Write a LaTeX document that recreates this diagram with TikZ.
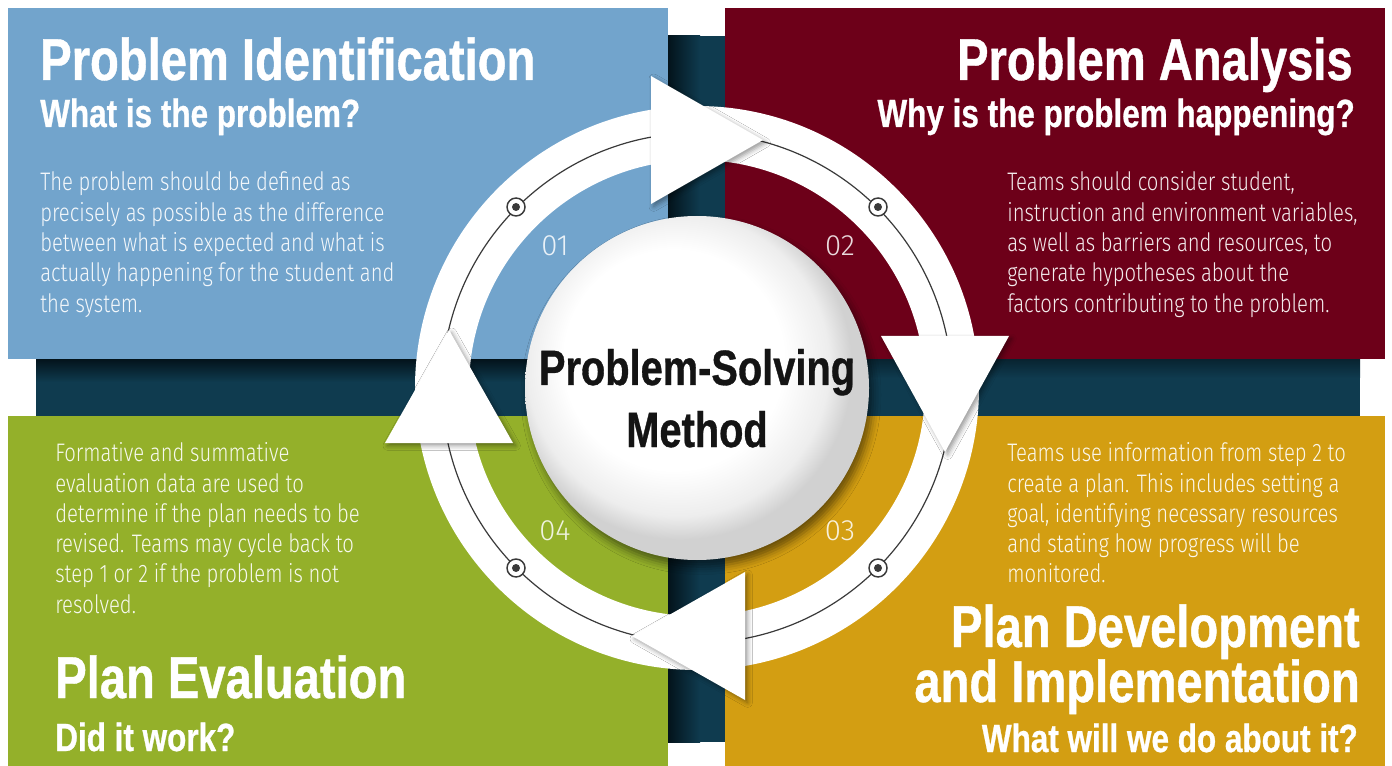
\documentclass[tikz,border=0pt]{standalone}
\usepackage{fontspec}
\setmainfont{Liberation Sans}
\newfontfamily\headfont{Liberation Sans Bold}[FakeStretch=0.80, FakeBold=0.7]
\newfontfamily\bodyfont{Fira Sans Light}[FakeStretch=0.80]
\newfontfamily\numfont{Fira Sans Light}
\usetikzlibrary{shadows.blur}
\definecolor{pblue}{HTML}{72A4CC}
\definecolor{pred}{HTML}{6D0019}
\definecolor{pgreen}{HTML}{94B02A}
\definecolor{pgold}{HTML}{D39E12}
\definecolor{band}{HTML}{0F3B4F}
\definecolor{bandd}{HTML}{03131B}
\definecolor{ringline}{HTML}{3A3A3A}
\pgfdeclareradialshading{spheresh}{\pgfpoint{-5bp}{6bp}}{color(0bp)=(white); color(16bp)=(white); color(22bp)=(black!7); color(25bp)=(black!18); color(50bp)=(black!18)}
\tikzset{
  head/.style={text=white, inner sep=0pt, font=\headfont\fontsize{44.2}{46}\selectfont},
  sub/.style={text=white, inner sep=0pt, font=\headfont\fontsize{29.5}{31}\selectfont},
  body/.style={text=white, text opacity=0.92, inner sep=0pt, font=\bodyfont\fontsize{19}{22}\selectfont},
  num/.style={text=white, text opacity=0.85, inner sep=0pt, font=\numfont\fontsize{22}{24}\selectfont},
  ctr/.style={text=black!92, inner sep=0pt, font=\headfont\fontsize{37.3}{40}\selectfont},
  arrowtri/.style={fill=white, blur shadow={shadow xshift=2pt, shadow yshift=-2pt, shadow blur radius=3.5pt, shadow opacity=40}},
  stepdot/.style={circle, fill=white, draw=ringline, line width=1.1pt, minimum size=13.5pt, inner sep=0pt},
}
\begin{document}
\begin{tikzpicture}[x=0.75pt, y=-0.75pt]
\useasboundingbox (0,0) rectangle (1392,766);
\fill[white] (0,0) rectangle (1392,766);
% dark cross band
\fill[band] (36,359) rectangle (1360,416);
\fill[band] (668,36) rectangle (725,742);
\shade[left color=bandd, right color=band] (668,36) rectangle (700,742);
\shade[top color=bandd, bottom color=band] (36,359) rectangle (668,382);
\shade[top color=bandd!60!band, bottom color=band] (725,359) rectangle (1360,378);
% panels
\fill[pblue] (8,8) rectangle (668,359);
\fill[pred] (725,8) rectangle (1385,359);
\fill[pgreen] (8,416) rectangle (668,766);
\fill[pgold] (725,416) rectangle (1385,766);
% panel 1
\node[head, anchor=base west] (h1) at (40,80) {Problem Identification};
\node[sub, anchor=base west] (s1) at (40,127) {What is the problem?};
\foreach \t [count=\i] in {{The problem should be defined as},{precisely as possible as the difference},{between what is expected and what is},{actually happening for the student and},{the system.}}
  \node[body, anchor=base west] (bA\i) at (40,{191+30.3*(\i-1)}) {\t};
% panel 2
\node[head, anchor=base east] (h2) at (1353,80) {Problem Analysis};
\node[sub, anchor=base east] (s2) at (1355,127) {Why is the problem happening?};
\foreach \t [count=\i] in {{Teams should consider student,},{instruction and environment variables,},{as well as barriers and resources, to},{generate hypotheses about the},{factors contributing to the problem.}}
  \node[body, anchor=base west] (bB\i) at (1007,{191+30.3*(\i-1)}) {\t};
% panel 3
\foreach \t [count=\i] in {{Teams use information from step 2 to},{create a plan. This includes setting a},{goal, identifying necessary resources},{and stating how progress will be},{monitored.}}
  \node[body, anchor=base west] (bC\i) at (1007,{461.7+30.3*(\i-1)}) {\t};
\node[head, anchor=base east] (h3a) at (1360,647) {Plan Development};
\node[head, anchor=base east] (h3b) at (1360,702) {and Implementation};
\node[sub, anchor=base east] (s3) at (1358,752) {What will we do about it?};
% panel 4
\foreach \t [count=\i] in {{Formative and summative},{evaluation data are used to},{determine if the plan needs to be},{revised. Teams may cycle back to},{step 1 or 2 if the problem is not},{resolved.}}
  \node[body, anchor=base west] (bD\i) at (55,{461.7+30.3*(\i-1)}) {\t};
\node[head, anchor=base west] (h4) at (55,698) {Plan Evaluation};
\node[sub, anchor=base west] (s4) at (55,751) {Did it work?};
% ring
\fill[white, even odd rule] (697,388) circle[radius=211.5pt] (697,388) circle[radius=171pt];
\draw[ringline, line width=0.9pt] (697,388) circle[radius=191.25pt];
\foreach \n/\px/\py in {1/516/207, 2/878/207, 3/878/568, 4/516/568} {
  \node[stepdot] (dot\n) at (\px,\py) {};
  \fill[ringline] (dot\n.center) circle[radius=3pt];
}
% step numbers
\node[num] (n1) at (555,246) {01};
\node[num] (n2) at (840,246) {02};
\node[num] (n3) at (840,531) {03};
\node[num] (n4) at (555,531) {04};
% sphere
\node[circle, minimum size=258pt, inner sep=0pt, shading=spheresh,
  blur shadow={shadow xshift=3pt, shadow yshift=-5pt, shadow blur radius=6pt, shadow opacity=50}] (sphere) at (697,388) {};
\node[ctr, anchor=base] (c1) at (697,385) {Problem-Solving};
\node[ctr, anchor=base] (c2) at (697,447) {Method};
% arrow heads
\fill[arrowtri] (651,76) -- (651,204) -- (763,140) -- cycle;
\fill[arrowtri] (881,336) -- (1009,336) -- (945,452) -- cycle;
\fill[arrowtri] (745,572) -- (745,700) -- (632,636) -- cycle;
\fill[arrowtri] (385,443) -- (513,443) -- (449,330) -- cycle;
\end{tikzpicture}
\end{document}
